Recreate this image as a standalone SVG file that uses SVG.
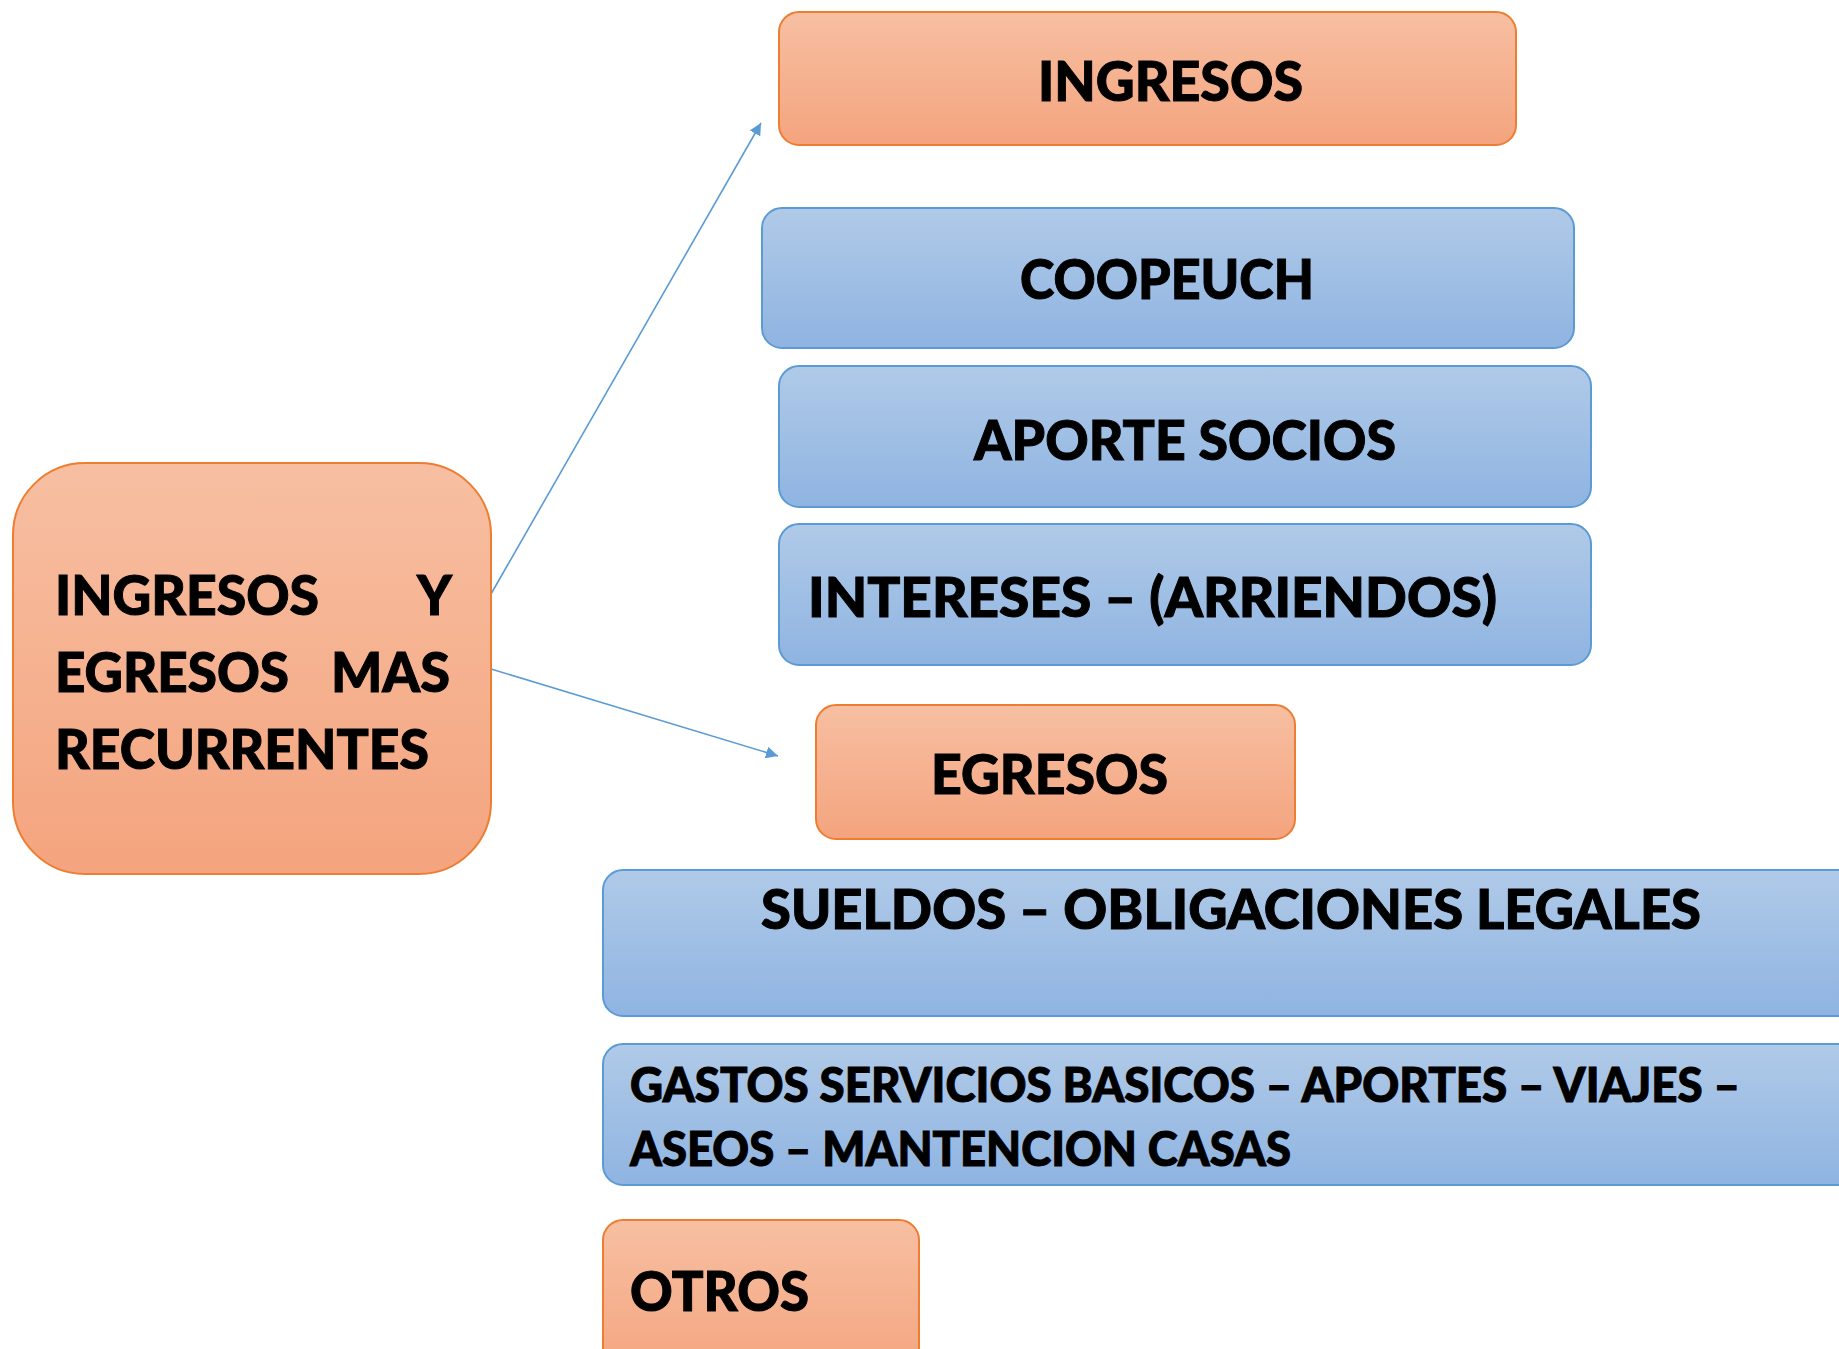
<svg xmlns="http://www.w3.org/2000/svg" width="1839" height="1349" viewBox="0 0 1839 1349">
<defs>
<linearGradient id="gO" x1="0" y1="0" x2="0" y2="1">
<stop offset="0" stop-color="#F7BFA2"/>
<stop offset="1" stop-color="#F4A47E"/>
</linearGradient>
<linearGradient id="gB" x1="0" y1="0" x2="0" y2="1">
<stop offset="0" stop-color="#B0CAE8"/>
<stop offset="1" stop-color="#8FB4E1"/>
</linearGradient>
<marker id="ah" viewBox="0 0 10 10" refX="10" refY="5" markerWidth="7.5" markerHeight="7.5" markerUnits="strokeWidth" orient="auto">
<path d="M0,0 L10,5 L0,10 z" fill="#5B9BD5"/>
</marker>
<style>
.o{fill:url(#gO);stroke:#ED7D31;stroke-width:2}
.b{fill:url(#gB);stroke:#5B9BD5;stroke-width:2}
.t{font-family:Lato,"Open Sans","Liberation Sans",sans-serif;font-weight:900;font-size:56px;fill:#000;stroke:#000;stroke-width:1}
.s{font-size:47px}
.c{stroke:#5B9BD5;stroke-width:1.6;fill:none}
</style>
</defs>
<rect width="1839" height="1349" fill="#fff"/>
<g id="connectors">
<line class="c" x1="491" y1="594" x2="761" y2="123" marker-end="url(#ah)"/>
<line class="c" x1="491" y1="669" x2="778" y2="756" marker-end="url(#ah)"/>
</g>
<g id="main">
<rect class="o" x="13" y="463" width="478" height="411" rx="72" ry="72"/>
<text class="t" x="55" y="615" textLength="264" lengthAdjust="spacingAndGlyphs">INGRESOS</text>
<text class="t" x="417" y="615" textLength="35" lengthAdjust="spacingAndGlyphs">Y</text>
<text class="t" x="55" y="692" textLength="234" lengthAdjust="spacingAndGlyphs">EGRESOS</text>
<text class="t" x="331" y="692" textLength="119" lengthAdjust="spacingAndGlyphs">MAS</text>
<text class="t" x="55" y="769" textLength="374" lengthAdjust="spacingAndGlyphs">RECURRENTES</text>
</g>
<g id="ingresos">
<rect class="o" x="779" y="12" width="737" height="133" rx="20" ry="20"/>
<text class="t" x="1038" y="101" textLength="265" lengthAdjust="spacingAndGlyphs">INGRESOS</text>
</g>
<g id="coopeuch">
<rect class="b" x="762" y="208" width="812" height="140" rx="20" ry="20"/>
<text class="t" x="1020" y="299" textLength="294" lengthAdjust="spacingAndGlyphs">COOPEUCH</text>
</g>
<g id="aporte">
<rect class="b" x="779" y="366" width="812" height="141" rx="20" ry="20"/>
<text class="t" x="974" y="460" textLength="422" lengthAdjust="spacingAndGlyphs">APORTE SOCIOS</text>
</g>
<g id="intereses">
<rect class="b" x="779" y="524" width="812" height="141" rx="20" ry="20"/>
<text class="t" x="808" y="617" textLength="689" lengthAdjust="spacingAndGlyphs">INTERESES – (ARRIENDOS)</text>
</g>
<g id="egresos">
<rect class="o" x="816" y="705" width="479" height="134" rx="20" ry="20"/>
<text class="t" x="931" y="794" textLength="237" lengthAdjust="spacingAndGlyphs">EGRESOS</text>
</g>
<g id="sueldos">
<rect class="b" x="603" y="870" width="1260" height="146" rx="20" ry="20"/>
<text class="t" x="761" y="929" textLength="940" lengthAdjust="spacingAndGlyphs">SUELDOS – OBLIGACIONES LEGALES</text>
</g>
<g id="gastos">
<rect class="b" x="603" y="1044" width="1260" height="141" rx="20" ry="20"/>
<text class="t s" x="630" y="1102" textLength="1110" lengthAdjust="spacingAndGlyphs">GASTOS SERVICIOS BASICOS – APORTES – VIAJES –</text>
<text class="t s" x="630" y="1166" textLength="661" lengthAdjust="spacingAndGlyphs">ASEOS – MANTENCION CASAS</text>
</g>
<g id="otros">
<rect class="o" x="603" y="1220" width="316" height="160" rx="20" ry="20"/>
<text class="t" x="630" y="1311" textLength="179" lengthAdjust="spacingAndGlyphs">OTROS</text>
</g>
</svg>
